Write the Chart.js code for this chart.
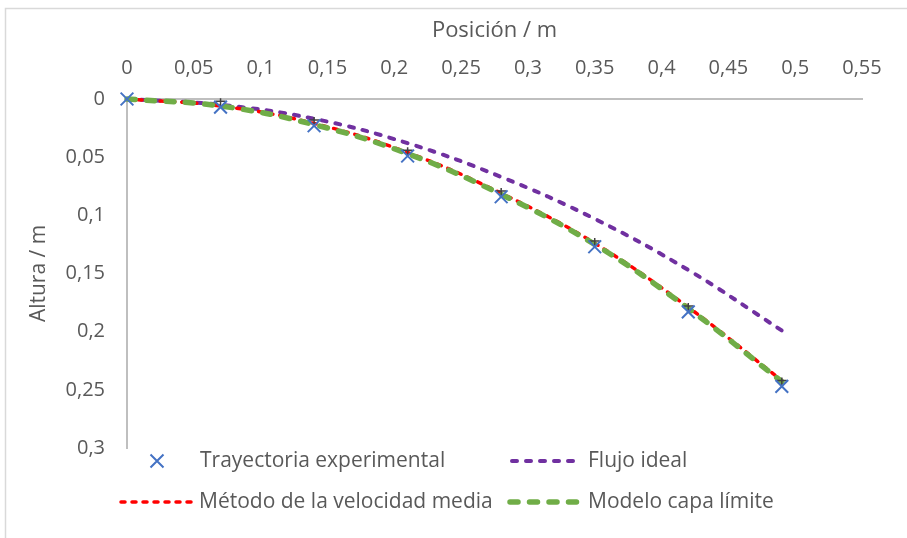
<!DOCTYPE html>
<html>
<head>
<meta charset="utf-8">
<script src="https://cdn.jsdelivr.net/npm/chart.js@4.4.1/dist/chart.umd.min.js"></script>
<style>
  html, body { margin: 0; padding: 0; background: #ffffff; }
  #wrap { position: relative; width: 907px; height: 538px; }
</style>
</head>
<body>
<div id="wrap"><canvas id="c"></canvas></div>
<script>
// ---- Data ----
const positions = [0, 0.07, 0.14, 0.21, 0.28, 0.35, 0.42, 0.49];
const alturaExperimental = [0, 0.007, 0.023, 0.049, 0.084, 0.127, 0.183, 0.247];
const errorExperimental = [0.005, 0.005, 0.005, 0.005, 0.005, 0.005, 0.005, 0.005];
const alturaFlujoIdeal = [0, 0.005, 0.017, 0.038, 0.067, 0.103, 0.147, 0.199];
const alturaVelocidadMedia = [0, 0.006, 0.021, 0.046, 0.081, 0.124, 0.179, 0.242];
const alturaCapaLimite = [0, 0.006, 0.022, 0.047, 0.082, 0.125, 0.180, 0.243];
const xTicks = [0, 0.05, 0.1, 0.15, 0.2, 0.25, 0.3, 0.35, 0.4, 0.45, 0.5, 0.55];
const yTicks = [0, 0.05, 0.1, 0.15, 0.2, 0.25, 0.3];
const seriesNames = ['Trayectoria experimental', 'Flujo ideal', 'Método de la velocidad media', 'Modelo capa límite'];

const FONT = '"Open Sans", "DejaVu Sans", sans-serif';
const TXT = '#595959';
const C_EXP = '#4472c4', C_IDEAL = '#7030a0', C_MED = '#ff0000', C_CAPA = '#70ad47';

const pts = ys => positions.map((x, i) => ({ x: x, y: ys[i] }));
const fmt = v => String(Math.round(v * 100) / 100).replace('.', ',');

const STY = {
  ideal: { color: C_IDEAL, width: 4, dash: [5, 9] },
  med:   { color: C_MED, width: 3.5, dash: [4, 7] },
  capa:  { color: C_CAPA, width: 5.5, dash: [8, 11.5] }
};

const frame = {
  id: 'frame',
  beforeDraw(chart) {
    const ctx = chart.ctx;
    ctx.save();
    ctx.strokeStyle = '#d9d9d9';
    ctx.lineWidth = 1.5;
    ctx.beginPath();
    ctx.moveTo(5.5, 538); ctx.lineTo(5.5, 8.5); ctx.lineTo(907, 8.5);
    ctx.stroke();
    ctx.restore();
  }
};

const errBars = {
  id: 'errBars',
  afterDatasetDraw(chart, args) {
    if (args.index !== 1) return;
    const ctx = chart.ctx, xs = chart.scales.x, ys = chart.scales.y;
    ctx.save();
    ctx.strokeStyle = '#404040';
    ctx.lineWidth = 1.5;
    positions.forEach((x, i) => {
      if (i === 0) return;
      const px = xs.getPixelForValue(x);
      const py = ys.getPixelForValue(alturaExperimental[i]);
      const pt = ys.getPixelForValue(alturaExperimental[i] - errorExperimental[i]);
      ctx.beginPath();
      ctx.moveTo(px, py); ctx.lineTo(px, pt - 3);
      ctx.moveTo(px - 5, pt); ctx.lineTo(px + 5, pt);
      ctx.stroke();
    });
    ctx.restore();
  }
};

const legendPlugin = {
  id: 'customLegend',
  afterDraw(chart) {
    const ctx = chart.ctx;
    ctx.save();
    ctx.font = '21px ' + FONT;
    ctx.fillStyle = TXT;
    ctx.textBaseline = 'middle';
    ctx.textAlign = 'left';
    const r1 = 461, r2 = 502;
    // X marker
    ctx.strokeStyle = C_EXP; ctx.lineWidth = 2;
    const mx = 157, s = 6.5;
    ctx.beginPath();
    ctx.moveTo(mx - s, r1 - s); ctx.lineTo(mx + s, r1 + s);
    ctx.moveTo(mx + s, r1 - s); ctx.lineTo(mx - s, r1 + s);
    ctx.stroke();
    ctx.fillText(seriesNames[0], 200, r1);
    const sample = (x1, x2, y, st) => {
      ctx.strokeStyle = st.color; ctx.lineWidth = st.width;
      ctx.lineCap = 'round'; ctx.setLineDash(st.dash);
      ctx.beginPath(); ctx.moveTo(x1, y); ctx.lineTo(x2, y); ctx.stroke();
      ctx.setLineDash([]);
    };
    sample(512, 580, r1, STY.ideal);
    ctx.fillText(seriesNames[1], 588, r1);
    sample(121, 192, r2, STY.med);
    ctx.fillText(seriesNames[2], 199, r2);
    sample(510, 580, r2, STY.capa);
    ctx.fillText(seriesNames[3], 588, r2);
    ctx.restore();
  }
};

const lineDs = (label, ys, st) => ({
  label: label, data: pts(ys), showLine: true,
  borderColor: st.color, backgroundColor: st.color,
  borderWidth: st.width, borderDash: st.dash, borderCapStyle: 'round',
  pointRadius: 0, pointHoverRadius: 0, tension: 0.4, fill: false, clip: false
});

new Chart(document.getElementById('c'), {
  type: 'scatter',
  data: {
    datasets: [
      { label: seriesNames[0], data: pts(alturaExperimental), showLine: false,
        pointStyle: 'crossRot', pointRadius: 9, pointBorderWidth: 2, clip: false,
        borderColor: C_EXP, backgroundColor: C_EXP },
      lineDs(seriesNames[3], alturaCapaLimite, STY.capa),
      lineDs(seriesNames[2], alturaVelocidadMedia, STY.med),
      lineDs(seriesNames[1], alturaFlujoIdeal, STY.ideal)
    ]
  },
  options: {
    responsive: true, maintainAspectRatio: false, animation: false,
    layout: { padding: { left: 0, top: 0, right: 45, bottom: 90 } },
    plugins: { legend: { display: false }, tooltip: { enabled: false } },
    scales: {
      x: {
        type: 'linear', position: 'top', min: 0, max: 0.55,
        afterBuildTicks: sc => { sc.ticks = xTicks.map(v => ({ value: v })); },
        afterFit: sc => { sc.height = 99; },
        grid: { display: false, drawTicks: false },
        border: { display: true, color: '#bfbfbf', width: 2 },
        ticks: { color: TXT, font: { family: FONT, size: 20 }, padding: 19, maxRotation: 0,
                 callback: v => fmt(v) },
        title: { display: true, text: 'Posición / m', color: TXT,
                 font: { family: FONT, size: 22 }, padding: { top: 18, bottom: 0 } }
      },
      y: {
        type: 'linear', reverse: true, min: 0, max: 0.3,
        afterBuildTicks: sc => { sc.ticks = yTicks.map(v => ({ value: v })); },
        afterFit: sc => { sc.width = 127; },
        grid: { display: false, drawTicks: false },
        border: { display: true, color: '#bfbfbf', width: 2 },
        ticks: { color: TXT, font: { family: FONT, size: 20 }, padding: 22,
                 callback: v => fmt(v) },
        title: { display: true, text: 'Altura / m', color: TXT,
                 font: { family: FONT, size: 21 }, padding: { top: 26, bottom: 0 } }
      }
    }
  },
  plugins: [frame, errBars, legendPlugin]
});
</script>
</body>
</html>
